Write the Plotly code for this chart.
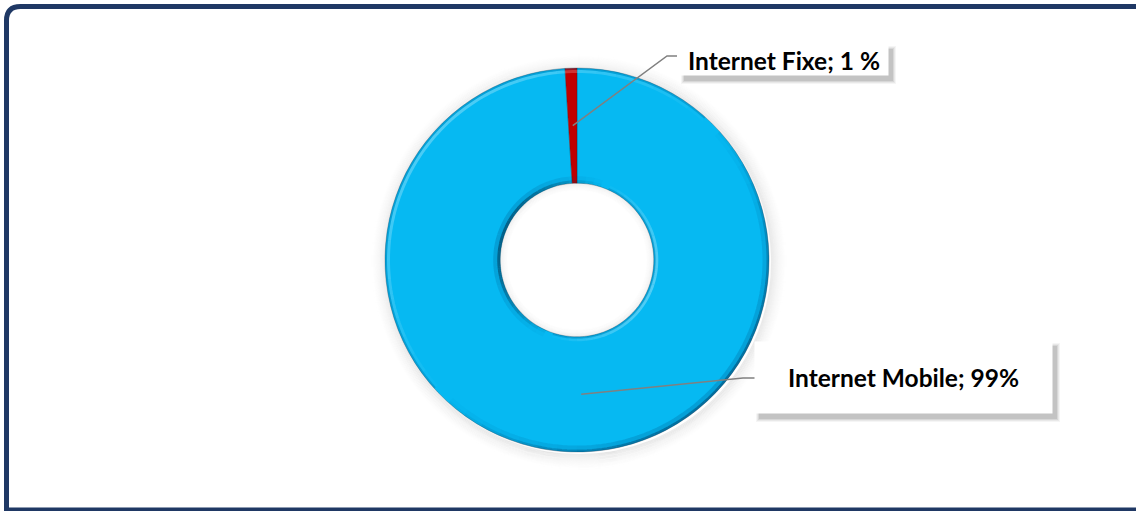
import math
import plotly.graph_objects as go

# ---- data ----
labels = ["Internet Mobile", "Internet Fixe"]
values = [99, 1]
label_texts = ["Internet Mobile; 99%", "Internet Fixe; 1 %"]
colors = ["#06B9F2", "#C00000"]

W, H = 1136, 511
CX, CY, R = 577, 260, 192
HOLE = 0.40


def px(x):
    return x / W


def py(y):
    return 1 - y / H


def ring(r, color, width, layer="above", ox=0, oy=0):
    return dict(type="circle", xref="paper", yref="paper", layer=layer,
                x0=px(CX - r + ox), x1=px(CX + r + ox), y0=py(CY + r + oy), y1=py(CY - r + oy),
                fillcolor="rgba(0,0,0,0)", line=dict(color=color, width=width))


def arc(r, a0, a1, color, width, n=4):
    pts = []
    for j in range(n + 1):
        a = math.radians(a0 + (a1 - a0) * j / n)
        pts.append((px(CX + r * math.sin(a)), py(CY - r * math.cos(a))))
    path = "M " + " L ".join(f"{x:.6f},{y:.6f}" for x, y in pts)
    return dict(type="path", xref="paper", yref="paper", layer="above", path=path,
                line=dict(color=color, width=width))


fig = go.Figure()
fig.add_trace(go.Pie(
    labels=labels, values=values, hole=HOLE, sort=False,
    direction="clockwise", rotation=0,
    marker=dict(colors=colors, line=dict(color="rgba(20,40,60,0.35)", width=0.8)),
    textinfo="none", hoverinfo="label+percent", showlegend=False,
    domain=dict(x=[px(CX - R), px(CX + R)], y=[py(CY + R), py(CY - R)]),
))

shapes = []
# soft shadow around donut (rings only, no fill)
for k in range(1, 18):
    op = 0.08 * (1 - k / 18) ** 1.5
    shapes.append(ring(R + k - 0.5, f"rgba(0,0,0,{op:.4f})", 1.2, layer="below", ox=2, oy=2))
ri = R * HOLE
# bevel shading
STEP = 6
for s in range(0, 360, STEP):
    a = s + STEP / 2
    w_dark_out = max(0.0, math.cos(math.radians(a - 135)))
    w_light_out = max(0.0, math.cos(math.radians(a - 315)))
    w_dark_in = max(0.0, math.cos(math.radians(a - 290)))
    w_light_in = max(0.0, math.cos(math.radians(a - 110)))
    if w_dark_out > 0.02:
        shapes.append(arc(R - 1.2, s, s + STEP, f"rgba(0,50,90,{0.55 * w_dark_out:.3f})", 2.6))
        shapes.append(arc(R - 4.5, s, s + STEP, f"rgba(0,70,120,{0.22 * w_dark_out:.3f})", 4))
    if w_light_out > 0.02:
        shapes.append(arc(R - 3.5, s, s + STEP, f"rgba(255,255,255,{0.28 * w_light_out:.3f})", 3))
        shapes.append(arc(R - 1.0, s, s + STEP, f"rgba(0,90,140,{0.25:.3f})", 2))
    if w_dark_in > 0.02:
        shapes.append(arc(ri + 1.5, s, s + STEP, f"rgba(0,40,70,{0.6 * w_dark_in:.3f})", 3))
        shapes.append(arc(ri + 5, s, s + STEP, f"rgba(0,70,120,{0.22 * w_dark_in:.3f})", 4))
    if w_light_in > 0.02:
        shapes.append(arc(ri + 3, s, s + STEP, f"rgba(255,255,255,{0.3 * w_light_in:.3f})", 3))
        shapes.append(arc(ri + 1.0, s, s + STEP, "rgba(0,90,140,0.25)", 2))
# inner hole shading
for k in range(1, 10):
    op = 0.06 * (1 - k / 10) ** 1.5
    shapes.append(ring(ri - k + 0.5, f"rgba(0,0,0,{op:.4f})", 1.2))

# label boxes (pixel positions) and leader lines computed from data
boxes = [
    dict(x0=755, x1=1052, y0=342, y1=413),  # Mobile
    dict(x0=680, x1=888, y0=45, y1=75),     # Fixe
]
elbows = [(743, 378), (667, 56)]
ends = [755, 677]
total = sum(values)
cum = 0
annotations = []
r_mid = (R + ri) / 2
for i, v in enumerate(values):
    mid = (cum + v / 2) / total
    cum += v
    th = 2 * math.pi * mid
    sx = CX + r_mid * math.sin(th)
    sy = CY - r_mid * math.cos(th)
    b = boxes[i]
    ex, ey = elbows[i]
    shapes.append(dict(type="path", xref="paper", yref="paper", layer="above",
                       path=f"M {px(sx)},{py(sy)} L {px(ex)},{py(ey)} L {px(ends[i])},{py(ey)}",
                       line=dict(color="#808080", width=1.5)))
    # box shadow
    for d, op in [(8, 0.04), (6, 0.05), (4, 0.07), (2, 0.09)]:
        shapes.append(dict(type="rect", xref="paper", yref="paper", layer="above",
                           x0=px(b["x0"] + 5 - d / 2), x1=px(b["x1"] + 4 + d / 2),
                           y0=py(b["y1"] + 5 + d / 2), y1=py(b["y0"] + 5 - d / 2),
                           fillcolor=f"rgba(0,0,0,{op})", line=dict(width=0)))
    annotations.append(dict(
        xref="paper", yref="paper", x=px((b["x0"] + b["x1"]) / 2), y=py((b["y0"] + b["y1"]) / 2),
        xanchor="center", yanchor="middle", text=f"<b>{label_texts[i]}</b>", showarrow=False,
        width=b["x1"] - b["x0"], height=b["y1"] - b["y0"], borderpad=0,
        bgcolor="white", font=dict(family="Lato", size=24.5, color="#000000"), align="center",
    ))

# navy frame with rounded top-left corner
rr = 14
x0, y0, y1, x1 = 6.5, 6.5, 510, 1150
frame = (f"M {px(x1)},{py(y0)} L {px(x0 + rr)},{py(y0)} Q {px(x0)},{py(y0)} {px(x0)},{py(y0 + rr)} "
         f"L {px(x0)},{py(y1)} L {px(x1)},{py(y1)}")
shapes.append(dict(type="path", xref="paper", yref="paper", layer="above", path=frame,
                   line=dict(color="#1F3864", width=5)))

fig.update_layout(
    width=W, height=H, margin=dict(l=0, r=0, t=0, b=0),
    paper_bgcolor="white", plot_bgcolor="white",
    shapes=shapes, annotations=annotations, showlegend=False,
)
fig.write_html("out.html", config={"displayModeBar": False},
               post_script="document.body.style.margin='0';document.body.style.overflow='hidden';")
